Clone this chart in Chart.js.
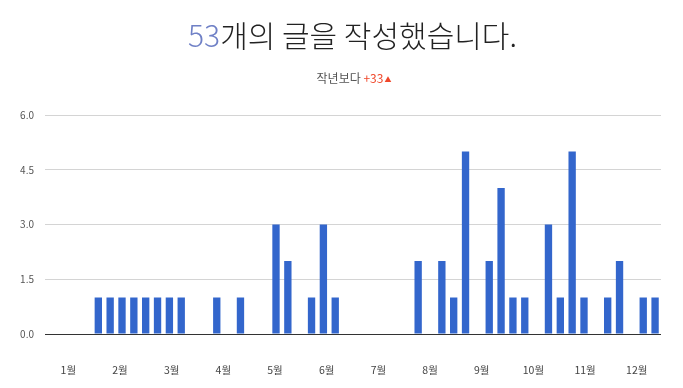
<!DOCTYPE html>
<html>
<head>
<meta charset="utf-8">
<script src="https://cdn.jsdelivr.net/npm/chart.js@4/dist/chart.umd.min.js"></script>
<style>
  html, body { margin: 0; padding: 0; background: #fff; }
  #wrap { position: relative; width: 683px; height: 388px; overflow: hidden; }
  #title { position: absolute; left: 0; width: 683px; top: 14px; text-align: center;
    font-family: "Noto Sans CJK KR", "Noto Sans", sans-serif; font-weight: 300; font-size: 30px; color: #222; line-height: 40px; padding-left: 22px; box-sizing: border-box; }
  #title .num { color: #6f80c6; }
  #sub { position: absolute; left: 0; width: 683px; top: 69px; text-align: center;
    font-family: "Noto Sans CJK KR", "Noto Sans", sans-serif; font-size: 12px; color: #555; line-height: 18px; padding-left: 25px; box-sizing: border-box; }
  #sub .up { color: #f0472a; }
  #sub .tri { color: #f0472a; font-size: 7px; vertical-align: 1px; margin-left: 1px; }
  #c { position: absolute; left: 0; top: 0; }
</style>
</head>
<body>
<div id="wrap">
  <canvas id="c" width="683" height="388"></canvas>
  <div id="title"><span class="num">53</span>개의 글을 작성했습니다.</div>
  <div id="sub">작년보다 <span class="up">+33</span><span class="tri">▲</span></div>
</div>
<script>
// Weekly post counts (52 weeks)
const weeks = Array.from({length: 52}, (_, i) => 'W' + (i + 1));
const postsPerWeek = [
  0, 0, 0, 0, 1, 1, 1, 1, 1, 1, 1, 1, 0,
  0, 1, 0, 1, 0, 0, 3, 2, 0, 1, 3, 1, 0,
  0, 0, 0, 0, 0, 2, 0, 2, 1, 5, 0, 2, 4,
  1, 1, 0, 3, 1, 5, 1, 0, 1, 2, 0, 1, 1
];
const monthLabels = ['1월','2월','3월','4월','5월','6월','7월','8월','9월','10월','11월','12월'];
const yTicks = [0, 1.5, 3.0, 4.5, 6.0];

const FONT = '"Noto Sans CJK KR", "Noto Sans", sans-serif';

new Chart(document.getElementById('c'), {
  type: 'bar',
  data: {
    labels: weeks,
    datasets: [{
      data: postsPerWeek,
      backgroundColor: '#3366cc',
      borderWidth: 0,
      categoryPercentage: 1.0,
      barPercentage: 0.62,
      xAxisID: 'x'
    }]
  },
  options: {
    responsive: false,
    animation: false,
    events: [],
    layout: { padding: { top: 115, right: 22, left: 0, bottom: 0 } },
    plugins: { legend: { display: false }, tooltip: { enabled: false }, title: { display: false } },
    scales: {
      x: {
        type: 'category',
        display: false,
        offset: true,
        grid: { display: false }
      },
      xm: {
        type: 'linear',
        position: 'bottom',
        bounds: 'data',
        offset: false,
        min: 0,
        max: 52,
        grid: { display: false, drawTicks: false },
        border: { display: false },
        afterBuildTicks: (axis) => {
          axis.ticks = monthLabels.map((m, i) => ({ value: 1.97 + i * 4.362 }));
          axis.min = 0; axis.max = 52;
        },
        afterFit: (axis) => { axis.height = 54; },
        ticks: {
          autoSkip: false,
          maxRotation: 0,
          padding: 30,
          color: '#444',
          font: { family: FONT, size: 10.5 },
          callback: (v, i) => monthLabels[i]
        }
      },
      y: {
        min: 0,
        max: 6,
        afterBuildTicks: (axis) => { axis.ticks = yTicks.map(v => ({ value: v })); },
        afterFit: (axis) => { axis.width = 45; },
        grid: {
          drawTicks: false,
          color: (ctx) => ctx.tick && ctx.tick.value === 0 ? '#333' : '#d4d4d4',
          lineWidth: 1
        },
        border: { display: false },
        ticks: {
          padding: 11,
          color: '#555',
          font: { family: FONT, size: 10 },
          callback: (v) => Number(v).toFixed(1)
        }
      }
    }
  }
});
</script>
</body>
</html>
